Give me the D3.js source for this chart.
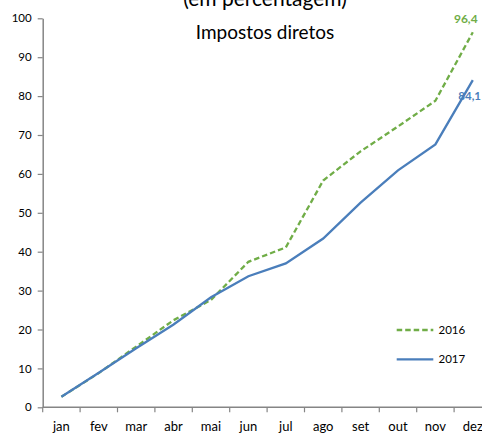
<!DOCTYPE html>
<html>
<head>
<meta charset="utf-8">
<script src="https://cdn.jsdelivr.net/npm/d3@7"></script>
<style>
  html, body { margin: 0; padding: 0; background: #fff; }
  svg { display: block; font-family: Lato, "Open Sans", sans-serif; }
</style>
</head>
<body>
<svg id="chart" width="482" height="433"></svg>
<script>
const months = ["jan","fev","mar","abr","mai","jun","jul","ago","set","out","nov","dez"];
const values2016 = [2.7, 8.8, 15.6, 22.4, 27.6, 37.4, 41.1, 58.3, 65.8, 72.2, 78.8, 96.4];
const values2017 = [2.7, 8.9, 15.2, 21.3, 28.3, 33.7, 37.0, 43.4, 52.6, 60.9, 67.6, 84.1];
const yTicks = [0, 10, 20, 30, 40, 50, 60, 70, 80, 90, 100];
const seriesNames = ["2016", "2017"];
const endLabels = ["96,4", "84,1"];
const title = "Impostos diretos";
const subtitle = "(em percentagem)";

const colors = ["#70AD47", "#4A7EBB"];

const svg = d3.select("#chart");
const x = d3.scaleBand().domain(months).range([42.7, 491.5]).padding(0);
const y = d3.scaleLinear().domain([0, 100]).range([407.3, 18.3]);
const cx = m => x(m) + x.bandwidth() / 2;

// Y axis
const yAxis = svg.append("g").attr("transform", "translate(42.7,0)")
  .call(d3.axisLeft(y).tickValues(yTicks).tickSize(5).tickPadding(6).tickSizeOuter(0));
yAxis.select(".domain").attr("stroke", "#858585").attr("stroke-width", 1.5);
yAxis.selectAll(".tick line").attr("stroke", "#858585").attr("stroke-width", 1.2);
yAxis.selectAll(".tick text").attr("fill", "#000").attr("font-size", 11.5)
  .attr("font-family", "Lato, sans-serif");

// X axis (ticks at category boundaries)
const xg = svg.append("g");
xg.append("line").attr("x1", 42.7).attr("x2", 491.5).attr("y1", y(0)).attr("y2", y(0))
  .attr("stroke", "#858585").attr("stroke-width", 1.5);
xg.selectAll("line.tk").data(months).join("line").attr("class", "tk")
  .attr("x1", d => x(d)).attr("x2", d => x(d))
  .attr("y1", y(0)).attr("y2", y(0) + 5)
  .attr("stroke", "#858585").attr("stroke-width", 1.2);
xg.selectAll("text").data(months).join("text")
  .attr("x", d => cx(d)).attr("y", 431)
  .attr("text-anchor", "middle").attr("font-size", 13).attr("fill", "#000")
  .text(d => d);

// Lines
const line = d3.line().x((d, i) => cx(months[i])).y(d => y(d));
svg.append("path").datum(values2016).attr("d", line)
  .attr("fill", "none").attr("stroke", colors[0]).attr("stroke-width", 2.3)
  .attr("stroke-dasharray", "5.5,3");
svg.append("path").datum(values2017).attr("d", line)
  .attr("fill", "none").attr("stroke", colors[1]).attr("stroke-width", 2.3);

// End labels
svg.append("text").attr("x", cx("dez") - 7).attr("y", y(values2016[11]) - 9)
  .attr("text-anchor", "middle").attr("font-weight", "bold").attr("font-size", 12)
  .attr("fill", colors[0]).text(endLabels[0]);
svg.append("text").attr("x", 481).attr("y", y(values2017[11]) + 20)
  .attr("text-anchor", "end").attr("font-weight", "bold").attr("font-size", 11.5)
  .attr("fill", colors[1]).text(endLabels[1]);

// Titles
svg.append("text").attr("x", 265).attr("y", 5.5).attr("text-anchor", "middle")
  .attr("font-size", 21).attr("fill", "#000").text(subtitle);
svg.append("text").attr("x", 265).attr("y", 39.3).attr("text-anchor", "middle")
  .attr("font-size", 19).attr("fill", "#000").text(title);

// Legend
const lg = svg.append("g");
[[330, 0], [359.3, 1]].forEach(([ly, i]) => {
  lg.append("line").attr("x1", 396.7).attr("x2", 433.3).attr("y1", ly).attr("y2", ly)
    .attr("stroke", colors[i]).attr("stroke-width", 2.3)
    .attr("stroke-dasharray", i === 0 ? "5.5,3" : null);
  lg.append("text").attr("x", 438.5).attr("y", ly + 4).attr("font-size", 11.5)
    .attr("fill", "#000").text(seriesNames[i]);
});
</script>
</body>
</html>
